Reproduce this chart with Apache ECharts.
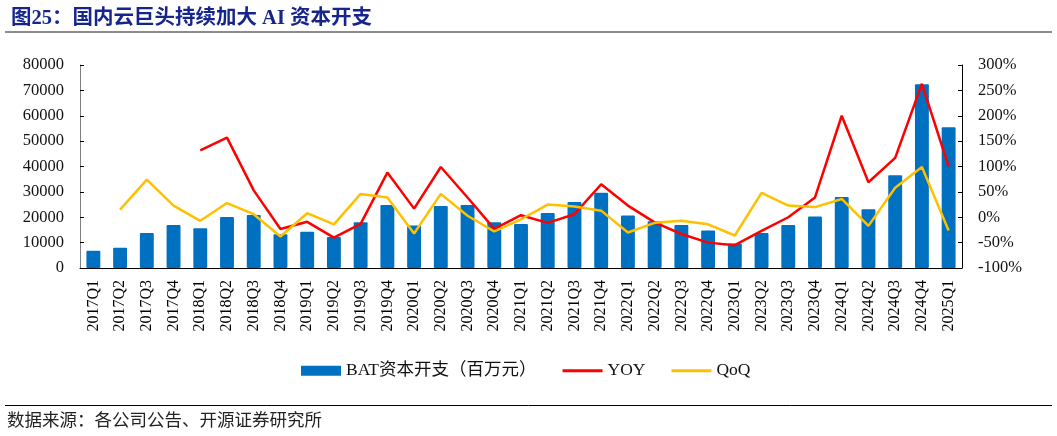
<!DOCTYPE html>
<html><head><meta charset="utf-8">
<script src="https://cdn.jsdelivr.net/npm/echarts@6/dist/echarts.min.js"></script>
<style>html,body{margin:0;padding:0;background:#fff}#c{width:1057px;height:436px}</style>
</head><body><div id="c"></div>
<script>
const categories = ['2017Q1','2017Q2','2017Q3','2017Q4','2018Q1','2018Q2','2018Q3','2018Q4','2019Q1','2019Q2','2019Q3','2019Q4','2020Q1','2020Q2','2020Q3','2020Q4','2021Q1','2021Q2','2021Q3','2021Q4','2022Q1','2022Q2','2022Q3','2022Q4','2023Q1','2023Q2','2023Q3','2023Q4','2024Q1','2024Q2','2024Q3','2024Q4','2025Q1'];
const capex = [6800,8000,13800,16900,15700,20100,20900,13300,14300,12200,18000,24800,16700,24400,24800,18000,17300,21700,26000,29700,20700,18400,16900,14800,9700,13800,16900,20300,28000,23200,36600,72400,55500];
const yoy = ['-','-','-','-',132,157,53,-23,-9,-40,-13,88,17,99,39,-23,4,-11,6,65,23,-10,-33,-50,-55,-27,0,39,200,69,117,263,100];
const qoq = ['-',15,74,23,-7,28,6,-38,8,-14,46,39,-32,46,3,-28,-4,25,21,13,-30,-11,-7,-14,-36,48,23,20,36,-17,58,99,-26];
const leftTicks = {min:0,max:80000,interval:10000};
const rightTicks = {min:-100,max:300,interval:50};

const chart = echarts.init(document.getElementById('c'));
const serif = '"Liberation Serif","Times New Roman",serif';
const cjkSerif = '"Liberation Serif","Noto Sans CJK SC",serif';
const lineIcon = 'path://M0,0L0,0M0,3.5L40,3.5L40,6.5L0,6.5ZM40,10L40,10';
chart.setOption({
  animation:false,
  title:{text:'图25：国内云巨头持续加大 AI 资本开支',left:6,top:3,textStyle:{fontFamily:cjkSerif,fontWeight:'bold',fontSize:20.5,color:'#15258c'}},
  graphic:[
    {type:'line',shape:{x1:5,y1:32,x2:1052,y2:32},style:{stroke:'#8c8c8c',lineWidth:2}},
    {type:'line',shape:{x1:5,y1:405.5,x2:1052,y2:405.5},style:{stroke:'#000',lineWidth:1}},
    {type:'text',left:7,top:411,style:{text:'数据来源：各公司公告、开源证券研究所',font:'17.5px "Noto Sans CJK SC",sans-serif',fill:'#222'}}
  ],
  grid:{left:80,right:95,top:65,bottom:168},
  legend:{left:296,top:357,itemWidth:40,itemHeight:10,itemGap:26,textStyle:{fontFamily:cjkSerif,fontSize:17.5,color:'#111'},
    data:[{name:'BAT资本开支（百万元）',icon:'rect'},{name:'YOY',icon:lineIcon},{name:'QoQ',icon:lineIcon}]},
  xAxis:{type:'category',data:categories,
    axisLine:{lineStyle:{color:'#000',width:1}},
    axisTick:{inside:true,length:4,lineStyle:{color:'#000'}},
    axisLabel:{rotate:90,fontFamily:serif,fontSize:16,color:'#000',margin:12}},
  yAxis:[
    {type:'value',min:leftTicks.min,max:leftTicks.max,interval:leftTicks.interval,splitLine:{show:false},
     axisLine:{show:true,lineStyle:{color:'#808080'}},axisTick:{show:true,inside:true,length:4,lineStyle:{color:'#000'}},
     axisLabel:{formatter:function(v){return String(v);},fontFamily:serif,fontSize:16.5,color:'#111',margin:16}},
    {type:'value',min:rightTicks.min,max:rightTicks.max,interval:rightTicks.interval,splitLine:{show:false},
     axisLine:{show:true,lineStyle:{color:'#000'}},axisTick:{show:true,inside:true,length:4,lineStyle:{color:'#000'}},
     axisLabel:{formatter:'{value}%',fontFamily:serif,fontSize:16.5,color:'#111',margin:16}}
  ],
  series:[
    {name:'BAT资本开支（百万元）',type:'bar',data:capex,barWidth:'52%',itemStyle:{color:'#0070c0',borderRadius:1}},
    {name:'YOY',type:'line',yAxisIndex:1,data:yoy,symbol:'none',lineStyle:{color:'#ff0000',width:2.5},itemStyle:{color:'#ff0000'}},
    {name:'QoQ',type:'line',yAxisIndex:1,data:qoq,symbol:'none',lineStyle:{color:'#ffc000',width:2.5},itemStyle:{color:'#ffc000'}}
  ]
});
</script></body></html>
